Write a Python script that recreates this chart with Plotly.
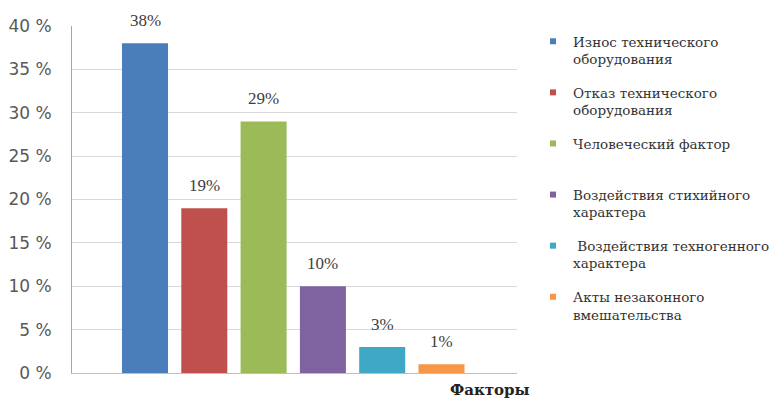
import plotly.graph_objects as go

categories = [
    "Износ технического<br>оборудования",
    "Отказ технического<br>оборудования",
    "Человеческий фактор<br> ",
    "Воздействия стихийного<br>характера",
    " Воздействия техногенного<br>характера",
    "Акты незаконного<br>вмешательства",
]
values = [38, 19, 29, 10, 3, 1]
colors = ["#4A7EBB", "#C0504D", "#9BBB59", "#7F62A0", "#3FA9C5", "#F79646"]
y_ticks = [0, 5, 10, 15, 20, 25, 30, 35, 40]
y_tick_labels = [f"{v} %" for v in y_ticks]
x_title = "Факторы"

fig = go.Figure()
for i, (name, v, c) in enumerate(zip(categories, values, colors)):
    fig.add_trace(go.Bar(x=[i], y=[v], marker=dict(color=c, line=dict(width=0)),
                         width=0.776, showlegend=False, hoverinfo="skip"))
for i, (name, c) in enumerate(zip(categories, colors)):
    fig.add_trace(go.Scatter(x=[None], y=[None], mode="markers", name=name,
                             legendgroup=f"g{i}",
                             marker=dict(symbol="square", size=6, color=c)))

for i, v in enumerate(values):
    fig.add_annotation(x=i, y=v, text=f"{v}%", showarrow=False, yanchor="bottom",
                       yshift=11, font=dict(family="Liberation Serif", size=17, color="#404040"))

fig.add_annotation(x=0.939, y=-0.05, xref="paper", yref="paper", text=f"<b>{x_title}</b>",
                   xanchor="center", yanchor="middle",
                   showarrow=False, font=dict(family="DejaVu Serif", size=15, color="#222222"))

fig.update_layout(
    width=773, height=393,
    margin=dict(l=64, r=264, t=18, b=28, autoexpand=False),
    plot_bgcolor="white", paper_bgcolor="white",
    barmode="overlay",
    xaxis=dict(range=[-1.231, 6.273], showticklabels=False, showgrid=False, automargin=False,
               zeroline=False, showline=True, linecolor="#BFBFBF", linewidth=1),
    yaxis=dict(range=[0, 40], tickvals=y_ticks, ticktext=y_tick_labels, automargin=False,
               showgrid=True, gridcolor="#D9D9D9", gridwidth=1, zeroline=False,
               showline=True, linecolor="#A6A6A6", linewidth=1,
               ticklabelstandoff=16,
               tickfont=dict(family="DejaVu Sans", size=17, color="#595959")),
    legend=dict(x=1.036, y=1.0, xanchor="left", yanchor="top", valign="top",
                tracegroupgap=13, bgcolor="rgba(0,0,0,0)",
                font=dict(family="DejaVu Serif", size=13.5, color="#333333")),
    showlegend=True,
)

fig.write_html("out.html")
